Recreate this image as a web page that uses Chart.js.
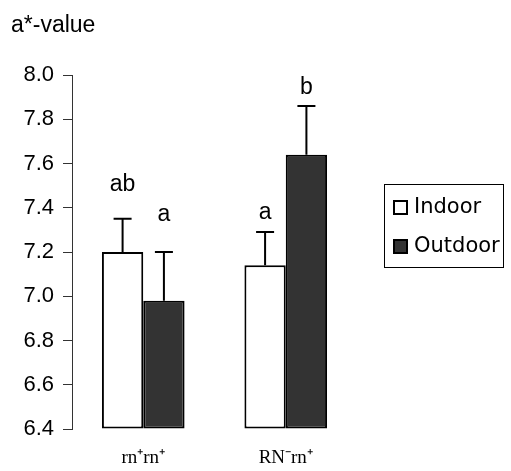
<!DOCTYPE html>
<html>
<head>
<meta charset="utf-8">
<script src="https://cdn.jsdelivr.net/npm/chart.js@4"></script>
<style>
  html, body { margin: 0; padding: 0; background: #fff; }
  .container { width: 511px; height: 471px; }
</style>
</head>
<body>
<div class="container"><canvas id="chart"></canvas></div>
<script>
var genotypes = ["rn\u207Arn\u207A", "RN\u207Brn\u207A"];
var indoor = [7.20, 7.14];
var outdoor = [6.98, 7.64];
var indoorErr = [0.15, 0.15];
var outdoorErr = [0.22, 0.22];
var indoorLetters = ["ab", "a"];
var outdoorLetters = ["a", "b"];
var yMin = 6.4;
var yMax = 8.0;
var yTicks = [6.4, 6.6, 6.8, 7.0, 7.2, 7.4, 7.6, 7.8, 8.0];

Chart.defaults.font.family = "'Liberation Sans', Arial, sans-serif";
Chart.defaults.color = "#000";

// upward error bars and the letter over each one
var errorBars = {
    id: "errorBars",
    afterDatasetsDraw: function (chart, args, opts) {
        var ctx = chart.ctx;
        var y = chart.scales.y;
        ctx.save();
        chart.data.datasets.forEach(function (ds, i) {
            var meta = chart.getDatasetMeta(i);
            meta.data.forEach(function (bar, j) {
                var top = y.getPixelForValue(ds.data[j] + ds.errors[j]);
                ctx.strokeStyle = "#000";
                ctx.lineWidth = 2;
                ctx.beginPath();
                ctx.moveTo(bar.x, bar.y);
                ctx.lineTo(bar.x, top);
                ctx.moveTo(bar.x - 9, top);
                ctx.lineTo(bar.x + 9, top);
                ctx.stroke();
                ctx.fillStyle = "#000";
                ctx.font = "23px 'Liberation Sans', Arial, sans-serif";
                ctx.textAlign = "center";
                ctx.textBaseline = "middle";
                ctx.fillText(ds.letters[j], bar.x, top - opts.gaps[i][j]);
            });
        });
        ctx.restore();
    }
};

// title in the top left corner and the boxed legend on the right
var frame = {
    id: "frame",
    afterDraw: function (chart) {
        var ctx = chart.ctx;
        ctx.save();
        ctx.fillStyle = "#000";
        ctx.font = "23px 'Liberation Sans', Arial, sans-serif";
        ctx.textAlign = "left";
        ctx.textBaseline = "middle";
        ctx.fillText("a*-value", 11, 26);

        ctx.strokeStyle = "#000";
        ctx.lineWidth = 1;
        ctx.strokeRect(384.5, 184.5, 119, 83);
        ctx.font = "21px 'DejaVu Sans', sans-serif";
        chart.data.datasets.forEach(function (ds, i) {
            var cy = 207 + i * 39;
            ctx.fillStyle = ds.backgroundColor;
            ctx.fillRect(394, cy - 6, 13, 13);
            ctx.lineWidth = 2;
            ctx.strokeRect(394, cy - 6, 13, 13);
            ctx.fillStyle = "#000";
            ctx.fillText(ds.label, 414, cy + 1);
        });
        ctx.restore();
    }
};

new Chart(document.getElementById("chart"), {
    type: "bar",
    data: {
        labels: genotypes,
        datasets: [
            {
                label: "Indoor",
                data: indoor,
                errors: indoorErr,
                letters: indoorLetters,
                base: yMin,
                backgroundColor: "#ffffff",
                borderColor: "#000",
                borderWidth: 2,
                borderSkipped: false,
                clip: 2
            },
            {
                label: "Outdoor",
                data: outdoor,
                errors: outdoorErr,
                letters: outdoorLetters,
                base: yMin,
                backgroundColor: "#333333",
                borderColor: "#000",
                borderWidth: 2,
                borderSkipped: false,
                clip: 2
            }
        ]
    },
    options: {
        responsive: true,
        maintainAspectRatio: false,
        animation: false,
        categoryPercentage: 0.58,
        barPercentage: 1,
        layout: { padding: { left: 0, right: 154, top: 75, bottom: 0 } },
        plugins: {
            legend: { display: false },
            tooltip: { enabled: false },
            errorBars: { gaps: [[34, 19], [37, 18]] }
        },
        scales: {
            x: {
                grid: { display: false },
                border: { display: false },
                ticks: {
                    font: { family: "'Liberation Serif', 'Times New Roman', serif", size: 19 },
                    padding: 10
                },
                afterFit: function (scale) { scale.height = 42; }
            },
            y: {
                min: yMin,
                max: yMax,
                afterBuildTicks: function (scale) {
                    scale.ticks = yTicks.map(function (v) { return { value: v }; });
                },
                ticks: {
                    font: { size: 22 },
                    padding: 9,
                    callback: function (v) { return v.toFixed(1); }
                },
                grid: {
                    drawOnChartArea: false,
                    drawTicks: true,
                    tickLength: 9,
                    color: "#333"
                },
                border: { display: true, color: "#333", width: 1 },
                afterFit: function (scale) { scale.width = 72; }
            }
        }
    },
    plugins: [errorBars, frame]
});
</script>
</body>
</html>
